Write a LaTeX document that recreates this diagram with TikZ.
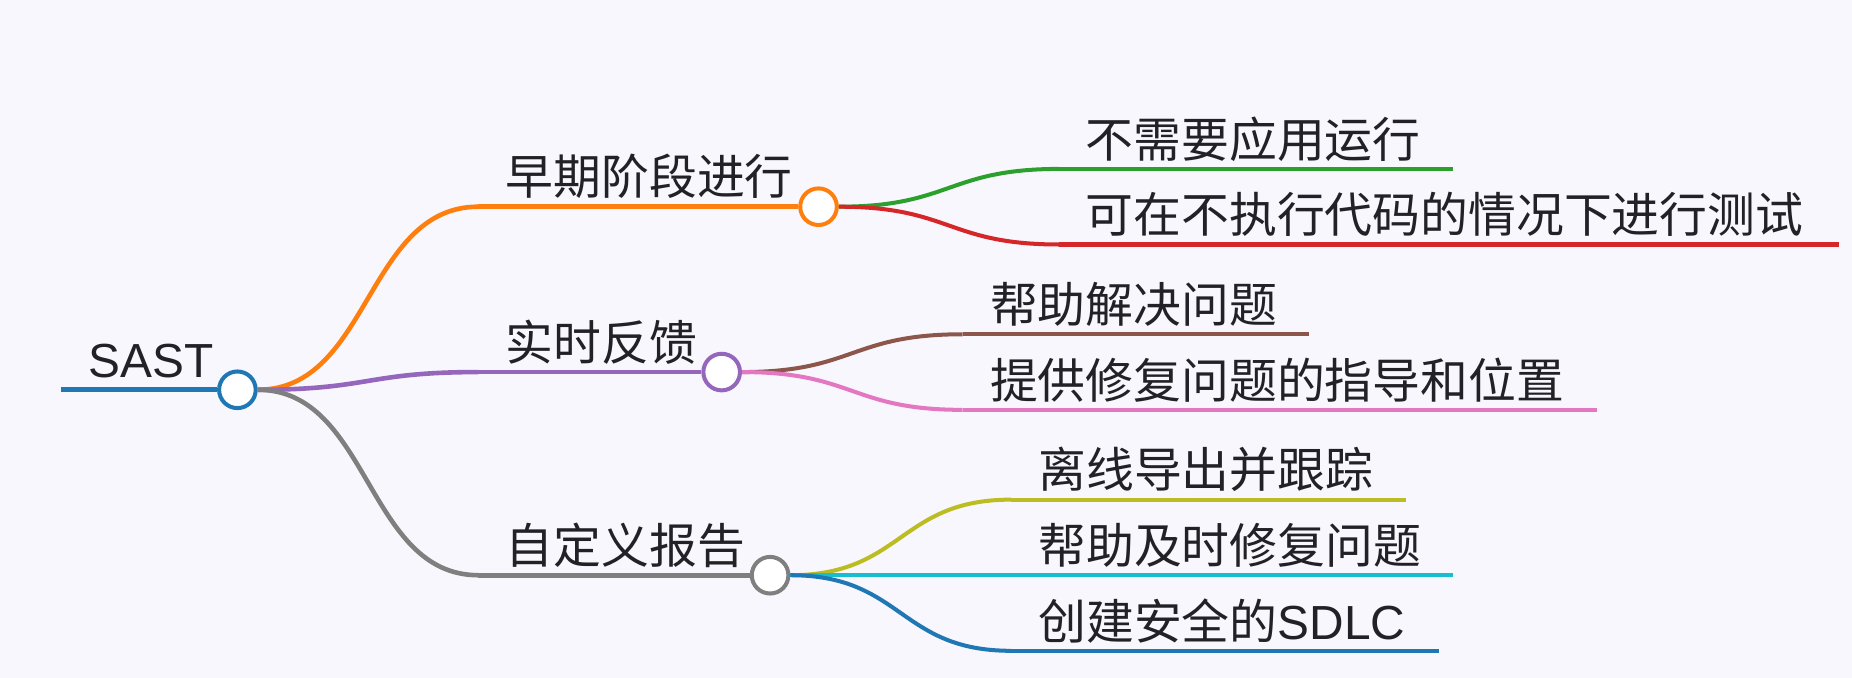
\documentclass[tikz,border=0pt]{standalone}
\usepackage{fontspec}
\setmainfont{Noto Sans CJK SC}
\newfontfamily\latin{Liberation Sans}

\definecolor{mmbg}{RGB}{248,247,254}
\definecolor{mmtext}{RGB}{34,34,38}
\definecolor{mmblue}{HTML}{1F77B4}
\definecolor{mmorange}{HTML}{FF7F0E}
\definecolor{mmgreen}{HTML}{2CA02C}
\definecolor{mmred}{HTML}{D62728}
\definecolor{mmpurple}{HTML}{9467BD}
\definecolor{mmbrown}{HTML}{8C564B}
\definecolor{mmpink}{HTML}{E377C2}
\definecolor{mmgray}{HTML}{7F7F7F}
\definecolor{mmolive}{HTML}{BCBD22}
\definecolor{mmcyan}{HTML}{17BECF}

\tikzset{
  knot/.style={circle, draw=#1, fill=white, line width=3.4pt, minimum size=31pt, inner sep=0pt},
  topic/.style={anchor=base west, inner sep=0pt, text=mmtext, font=\fontsize{40.5}{48}\selectfont},
  link/.style={to path={.. controls +(95,0) and +(-95,0) .. (\tikztotarget) \tikztonodes}},
}

\begin{document}
\begin{tikzpicture}[x=1pt, y=-1pt]

      \useasboundingbox (0,0) rectangle (1568,574);
      \fill[mmbg] (0,0) rectangle (1568,574);

      % line ends
      \coordinate (r0)  at (52,330);
      \coordinate (b1)  at (405,175);
      \coordinate (b2)  at (405,315);
      \coordinate (b3)  at (405,487);
      \coordinate (l11) at (897,143);  \coordinate (e11) at (1230,143);
      \coordinate (l12) at (897,207);  \coordinate (e12) at (1557,207);
      \coordinate (l21) at (815,283);  \coordinate (e21) at (1108,283);
      \coordinate (l22) at (815,347);  \coordinate (e22) at (1352,347);
      \coordinate (l31) at (856,423);  \coordinate (e31) at (1190,423);
      \coordinate (l32) at (856,487);  \coordinate (e32) at (1230,487);
      \coordinate (l33) at (856,551);  \coordinate (e33) at (1218,551);

      \begin{scope}[every node/.style={topic}]
        \node (sast)   at (75,320)  {\latin SAST};
        \node (early)  at (428,165) {早期阶段进行};
        \node (live)   at (428,305) {实时反馈};
        \node (report) at (428,477) {自定义报告};
        \node (t11) at (919,133) {不需要应用运行};
        \node (t12) at (919,197) {可在不执行代码的情况下进行测试};
        \node (t21) at (838,273) {帮助解决问题};
        \node (t22) at (838,337) {提供修复问题的指导和位置};
        \node (t31) at (879,413) {离线导出并跟踪};
        \node (t32) at (879,477) {帮助及时修复问题};
        \node (t33) at (879,541) {创建安全的{\latin SDLC}};
      \end{scope}

      \node[knot=mmblue]   (k0) at (201,330) {};
      \node[knot=mmorange] (k1) at (693,175) {};
      \node[knot=mmpurple] (k2) at (611,315) {};
      \node[knot=mmgray]   (k3) at (652,487) {};

      \path (r0) edge[draw=mmblue, line width=4.4pt] (k0);

      \begin{scope}[every edge/.style={draw, line width=3.9pt}]
        \path (k0.east) edge[link, draw=mmorange] (b1) (b1) edge[draw=mmorange] (k1);
        \path (k0.east) edge[link, draw=mmpurple] (b2) (b2) edge[draw=mmpurple] (k2);
        \path (k0.east) edge[link, draw=mmgray]   (b3) (b3) edge[draw=mmgray]   (k3);
      \end{scope}

      \begin{scope}[every edge/.style={draw, line width=3.4pt}]
        \path (k1.east) edge[link, draw=mmgreen]  (l11) (l11) edge[draw=mmgreen]  (e11);
        \path (k1.east) edge[link, draw=mmred]    (l12) (l12) edge[draw=mmred]    (e12);
        \path (k2.east) edge[link, draw=mmbrown]  (l21) (l21) edge[draw=mmbrown]  (e21);
        \path (k2.east) edge[link, draw=mmpink]   (l22) (l22) edge[draw=mmpink]   (e22);
        \path (k3.east) edge[link, draw=mmolive]  (l31) (l31) edge[draw=mmolive]  (e31);
        \path (k3.east) edge[draw=mmcyan]         (e32);
        \path (k3.east) edge[link, draw=mmblue]   (l33) (l33) edge[draw=mmblue]   (e33);
      \end{scope}

    \end{tikzpicture}
\end{document}
